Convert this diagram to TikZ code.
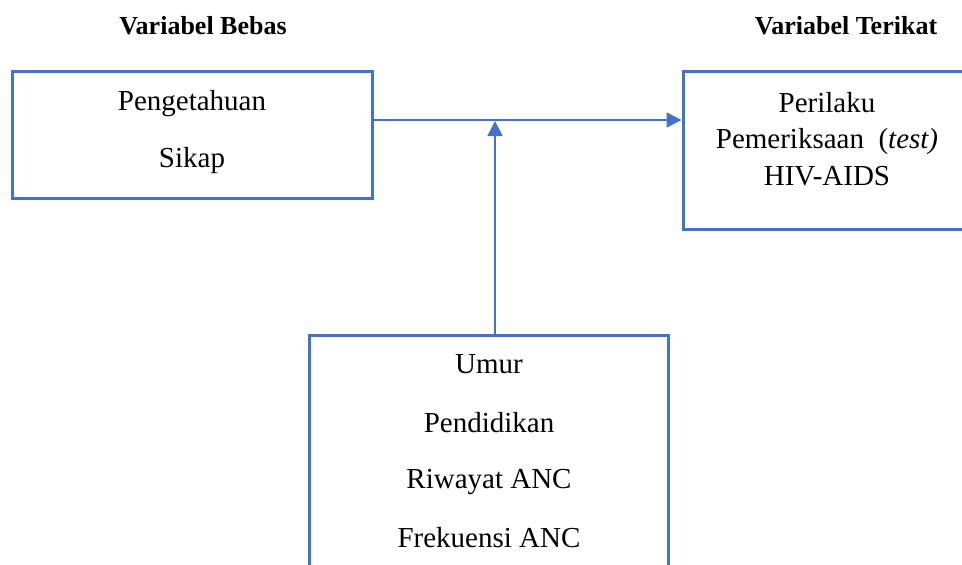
\documentclass[tikz,border=0pt]{standalone}
\usepackage{fontspec}
\setmainfont{Liberation Serif}
\usetikzlibrary{arrows.meta}
\definecolor{boxblue}{HTML}{4472C4}
\tikzset{
  box/.style={draw=boxblue, line width=3pt, inner sep=0pt},
  arr/.style={draw=boxblue, line width=1.6pt, -{Triangle[length=15pt,width=15pt]}},
  body/.style={font=\fontsize{29}{34}\selectfont, anchor=base, inner sep=0pt},
  title/.style={font=\fontsize{26}{30}\selectfont\bfseries, anchor=base, inner sep=0pt}
}
\begin{document}
\begin{tikzpicture}[x=1pt,y=-1pt]
\useasboundingbox (0,0) rectangle (962,565);
\clip (0,0) rectangle (962,565);
\node[title] (tb) at (203,34) {Variabel Bebas};
\node[title] (tt) at (846,34) {Variabel Terikat};
\node[box, minimum width=360pt, minimum height=127pt] (left) at (192,134.5) {};
\node[box, minimum width=300pt, minimum height=158pt] (right) at (833,150) {};
\node[box, minimum width=359pt, minimum height=260pt] (bottom) at (488.5,465) {};
\node[body] (t1) at (192,110) {Pengetahuan};
\node[body] (t2) at (192,167) {Sikap};
\node[body] (r1) at (827,112) {Perilaku};
\node[body] (r2) at (827,148) {Pemeriksaan\ \ (\textit{test)}};
\node[body] (r3) at (827,185) {HIV-AIDS};
\node[body] (b1) at (489,373) {Umur};
\node[body] (b2) at (489,432) {Pendidikan};
\node[body] (b3) at (489,488) {Riwayat ANC};
\node[body] (b4) at (489,547) {Frekuensi ANC};
\coordinate (h) at (0,120);
\draw[arr] (left.east |- h) -- (right.west |- h);
\draw[arr] (bottom.north -| 495,0) -- (495,121);
\end{tikzpicture}
\end{document}
